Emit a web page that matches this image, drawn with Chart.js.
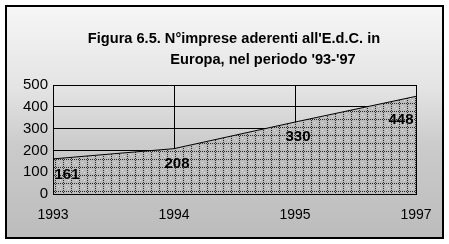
<!DOCTYPE html>
<html lang="it">
<head>
<meta charset="UTF-8">
<title>Figura 6.5</title>
<style>
  html, body { margin: 0; padding: 0; background: #fff; }
  #wrap { width: 449px; height: 244px; position: relative; }
</style>
</head>
<body>
<div id="wrap"><canvas id="edcChart" width="449" height="244"></canvas></div>
<script src="https://cdn.jsdelivr.net/npm/chart.js"></script>
<script>
    // data
    const anni = ['1993', '1994', '1995', '1997'];
    const imprese = [161, 208, 330, 448];
    const yTicks = [0, 100, 200, 300, 400, 500];
    const titolo = ["Figura 6.5. N°imprese aderenti all'E.d.C. in", "Europa, nel periodo '93-'97"];

    const FONT = "Arial, 'Liberation Sans', sans-serif";

    // grey dotted grid pattern like the old Excel fill
    function makePattern() {
        const p = document.createElement('canvas');
        p.width = 8; p.height = 8;
        const c = p.getContext('2d');
        c.fillStyle = '#bcbcbc';
        c.fillRect(0, 0, 8, 8);
        c.fillStyle = '#2a2a2a';
        for (let i = 0; i < 8; i += 2) {
            c.fillRect(i, 7, 1, 1);
            c.fillRect(7, i, 1, 1);
        }
        c.fillStyle = '#e4e4e4';
        c.fillRect(2, 2, 1, 1);
        c.fillRect(4, 4, 1, 1);
        return c.createPattern(p, 'repeat');
    }

    const sfondo = {
        id: 'sfondo',
        beforeDraw(chart) {
            const ctx = chart.ctx;
            ctx.save();
            ctx.fillStyle = '#fff';
            ctx.fillRect(0, 0, chart.width, chart.height);
            const g = ctx.createLinearGradient(0, 6, 0, 238);
            g.addColorStop(0, '#f6f6f6');
            g.addColorStop(0.35, '#e4e4e4');
            g.addColorStop(0.6, '#cbcbcb');
            g.addColorStop(1, '#bcbcbc');
            ctx.fillStyle = g;
            ctx.fillRect(6, 6, 437, 232);
            ctx.lineWidth = 2;
            ctx.strokeStyle = '#000';
            ctx.strokeRect(6, 6, 437, 232);
            ctx.restore();
        },
        afterDatasetsDraw(chart) {
            const ctx = chart.ctx;
            const a = chart.chartArea;
            ctx.save();
            ctx.strokeStyle = '#000';
            ctx.lineWidth = 1;
            ctx.strokeRect(a.left + 0.5, a.top + 0.5, a.right - a.left, a.bottom - a.top);
            // value labels
            const meta = chart.getDatasetMeta(0);
            ctx.font = 'bold 15px ' + FONT;
            ctx.fillStyle = '#000';
            ctx.textBaseline = 'middle';
            meta.data.forEach((pt, i) => {
                let x = pt.x, y = pt.y + 15;
                ctx.textAlign = 'center';
                if (i === 0) { x += 14; y = pt.y + 16; }
                else if (i === meta.data.length - 1) { x -= 15; y = pt.y + 24; }
                else { x += 3; }
                ctx.fillText(String(imprese[i]), x, y);
            });
            ctx.restore();
        },
        afterDraw(chart) {
            const ctx = chart.ctx;
            ctx.save();
            ctx.font = 'bold 14.6px ' + FONT;
            ctx.fillStyle = '#000';
            ctx.textAlign = 'center';
            ctx.textBaseline = 'alphabetic';
            ctx.fillText(titolo[0], 234, 43);
            ctx.fillText(titolo[1], 263, 64);
            ctx.restore();
        }
    };

    const ctx = document.getElementById('edcChart').getContext('2d');
    new Chart(ctx, {
        type: 'line',
        data: {
            labels: anni,
            datasets: [{
                data: imprese,
                fill: 'origin',
                backgroundColor: makePattern(),
                borderColor: '#000',
                borderWidth: 1,
                pointRadius: 0,
                tension: 0
            }]
        },
        options: {
            responsive: false,
            animation: false,
            layout: { padding: { top: 85, right: 33, left: 0, bottom: 0 } },
            plugins: {
                legend: { display: false },
                tooltip: { enabled: false }
            },
            scales: {
                x: {
                    offset: false,
                    grid: { color: '#000', lineWidth: 1, drawTicks: false },
                    border: { color: '#000' },
                    ticks: { color: '#000', font: { family: FONT, size: 14 }, padding: 13, maxRotation: 0 },
                    afterFit(s) { s.height = 50; }
                },
                y: {
                    min: 0,
                    max: 500,
                    afterBuildTicks(s) { s.ticks = yTicks.map(v => ({ value: v })); },
                    grid: { color: '#000', lineWidth: 1, drawTicks: false },
                    border: { color: '#000' },
                    ticks: { color: '#000', font: { family: FONT, size: 15 }, padding: 5 },
                    afterFit(s) { s.width = 53; }
                }
            }
        },
        plugins: [sfondo]
    });
</script>
</body>
</html>
